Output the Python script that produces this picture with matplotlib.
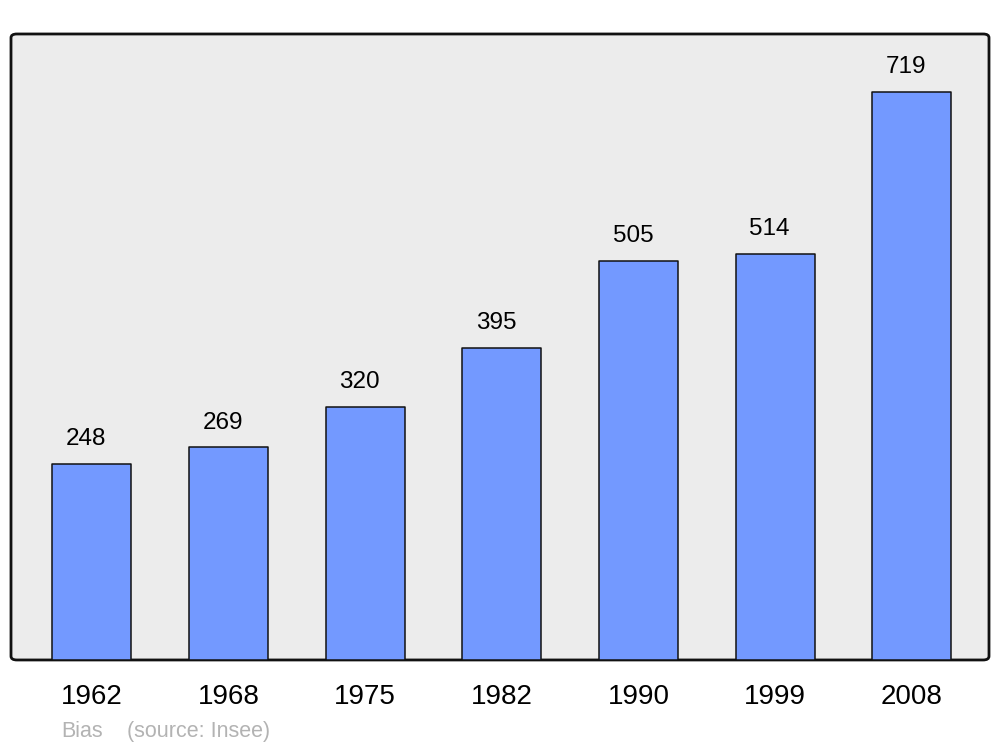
import matplotlib
matplotlib.use("Agg")
import matplotlib.pyplot as plt
from matplotlib.patches import FancyBboxPatch

years = ["1962", "1968", "1975", "1982", "1990", "1999", "2008"]
population = [248, 269, 320, 395, 505, 514, 719]

plt.rcParams['font.family'] = ['Liberation Sans', 'DejaVu Sans']

fig = plt.figure(figsize=(10, 7.47), dpi=100)
ax = fig.add_axes([0.011, 0.1165, 0.978, 0.838])
ax.set_xlim(-0.59, 6.565)
ax.set_ylim(0, 792)
ax.patch.set_visible(False)
for s in ax.spines.values():
    s.set_visible(False)

# rounded frame as background
frame = FancyBboxPatch((0, 0), 1, 1, boxstyle="round,pad=0,rounding_size=0.006",
                       transform=ax.transAxes, facecolor="#ececec",
                       edgecolor="#111111", linewidth=2.0, zorder=0, clip_on=False)
ax.add_patch(frame)

x = range(len(years))
bars = ax.bar(x, population, width=0.578, color="#7399ff",
              edgecolor="#111111", linewidth=1.1, zorder=2)
for b in bars:
    b.set_joinstyle("round")

for xi, v in zip(x, population):
    ax.annotate(str(v), (xi, v), xytext=(-4, 13.5), textcoords="offset points",
                ha="center", va="baseline", fontsize=17.5, color="black")

ax.set_xticks(list(x))
ax.set_xticklabels(years, fontsize=20)
ax.tick_params(axis="x", length=0, pad=17)
ax.set_yticks([])

fig.text(0.061, 0.0134, "Bias", fontsize=15.5, color="#b3b3b3", va="baseline")
fig.text(0.127, 0.0134, "(source: Insee)", fontsize=15.5, color="#b3b3b3", va="baseline")

fig.savefig("out.png", dpi=100)
